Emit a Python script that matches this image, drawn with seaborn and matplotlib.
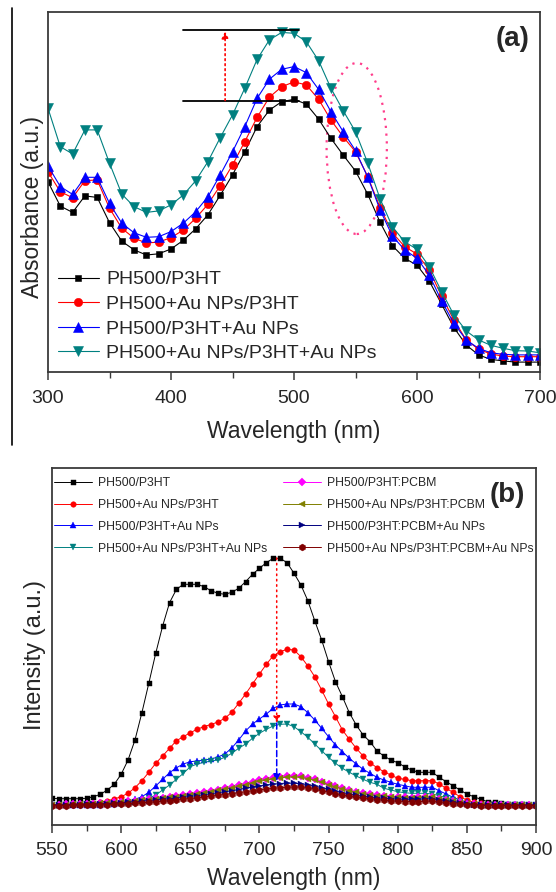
import numpy as np
import pandas as pd
import matplotlib
matplotlib.use('Agg')
import matplotlib.pyplot as plt
import seaborn as sns
from matplotlib.patches import Ellipse
from matplotlib.lines import Line2D
from matplotlib.ticker import MultipleLocator, NullFormatter, NullLocator

sns.set_style('ticks')
plt.rcParams['font.family'] = ['Liberation Sans', 'DejaVu Sans']

# ---------------- Panel (a): absorbance ----------------
wl_a = list(range(300, 701, 10))
abs_ph500_p3ht = [0.634, 0.553, 0.532, 0.587, 0.582, 0.498, 0.436, 0.407, 0.390, 0.394,
                  0.410, 0.439, 0.477, 0.524, 0.589, 0.657, 0.734, 0.818, 0.873, 0.901,
                  0.909, 0.893, 0.843, 0.779, 0.723, 0.670, 0.592, 0.499, 0.421, 0.379,
                  0.356, 0.303, 0.226, 0.148, 0.090, 0.057, 0.042, 0.037, 0.033, 0.033, 0.033]
abs_ph500au_p3ht = [0.667, 0.601, 0.581, 0.638, 0.640, 0.546, 0.479, 0.446, 0.430, 0.433,
                    0.448, 0.473, 0.512, 0.559, 0.621, 0.690, 0.768, 0.849, 0.916, 0.951,
                    0.967, 0.957, 0.909, 0.840, 0.784, 0.734, 0.651, 0.548, 0.464, 0.418,
                    0.393, 0.340, 0.253, 0.173, 0.107, 0.076, 0.060, 0.053, 0.051, 0.051, 0.051]
abs_ph500_p3htau = [0.687, 0.618, 0.592, 0.649, 0.649, 0.562, 0.496, 0.464, 0.449, 0.451,
                    0.468, 0.496, 0.534, 0.584, 0.657, 0.734, 0.818, 0.912, 0.976, 1.009,
                    1.018, 0.998, 0.942, 0.868, 0.801, 0.738, 0.649, 0.540, 0.453, 0.407,
                    0.379, 0.323, 0.237, 0.162, 0.107, 0.079, 0.064, 0.059, 0.057, 0.057, 0.057]
abs_ph500au_p3htau = [0.879, 0.751, 0.727, 0.807, 0.807, 0.696, 0.593, 0.551, 0.532, 0.537,
                      0.557, 0.590, 0.637, 0.701, 0.781, 0.857, 0.946, 1.042, 1.107, 1.132,
                      1.129, 1.101, 1.038, 0.946, 0.871, 0.801, 0.696, 0.577, 0.484, 0.434,
                      0.409, 0.351, 0.268, 0.190, 0.137, 0.107, 0.089, 0.079, 0.071, 0.070, 0.064]
labels_a = ['PH500/P3HT', 'PH500+Au NPs/P3HT', 'PH500/P3HT+Au NPs', 'PH500+Au NPs/P3HT+Au NPs']
colors_a = ['#000000', '#ff0000', '#0000ff', '#008080']
markers_a = ['s', 'o', '^', 'v']

# ---------------- Panel (b): PL intensity ----------------
wl_b = list(range(550, 901, 5))
pl_ph500_p3ht = [267, 263, 263, 263, 263, 267, 283, 307, 350, 407, 507, 650, 850, 1123, 1417,
                 1717, 1990, 2223, 2357, 2407, 2407, 2407, 2383, 2343, 2317, 2307, 2327, 2367,
                 2433, 2507, 2567, 2623, 2667, 2667, 2623, 2517, 2400, 2243, 2043, 1850, 1633,
                 1433, 1283, 1123, 1000, 900, 833, 740, 690, 650, 623, 583, 550, 527, 527, 527,
                 477, 433, 393, 350, 310, 283, 257, 233, 227, 217, 210, 210, 207, 203, 200]
pl_ph500au_p3ht = [200, 200, 200, 200, 205, 210, 217, 227, 243, 260, 283, 317, 373, 443, 527,
                   617, 690, 767, 843, 883, 923, 957, 985, 1005, 1030, 1067, 1127, 1217, 1310,
                   1410, 1510, 1607, 1693, 1733, 1757, 1750, 1683, 1590, 1483, 1350, 1210, 1083,
                   950, 857, 767, 690, 623, 573, 533, 500, 467, 457, 443, 443, 443, 443, 410, 367,
                   327, 283, 250, 227, 217, 210, 205, 200, 200, 200, 200, 200, 200]
pl_ph500_p3htau = [200, 200, 200, 200, 200, 200, 200, 200, 210, 215, 217, 233, 257, 283, 327,
                   390, 457, 523, 573, 610, 633, 640, 650, 660, 680, 710, 770, 850, 940, 1010,
                   1060, 1110, 1167, 1200, 1210, 1210, 1183, 1123, 1050, 967, 883, 800, 733, 667,
                   610, 557, 517, 477, 450, 427, 407, 393, 377, 377, 377, 377, 343, 310, 277, 250,
                   227, 210, 200, 200, 200, 200, 200, 200, 200, 200, 200]
pl_ph500au_p3htau = [200, 200, 200, 200, 200, 200, 200, 200, 200, 200, 200, 200, 210, 233, 267,
                     300, 350, 400, 457, 517, 583, 610, 627, 640, 650, 677, 717, 767, 810, 867,
                     917, 957, 990, 1007, 1010, 983, 933, 877, 810, 743, 677, 617, 567, 527, 490,
                     457, 427, 407, 367, 350, 333, 323, 317, 317, 317, 310, 293, 273, 250, 227,
                     210, 200, 200, 200, 200, 200, 200, 200, 200, 200, 200]
pl_ph500_pcbm = [205, 205, 207, 208, 210, 212, 215, 218, 222, 226, 230, 237, 245, 252, 260,
                 268, 275, 283, 290, 300, 310, 320, 330, 343, 355, 368, 380, 398, 415, 433,
                 450, 462, 475, 485, 490, 493, 490, 475, 457, 435, 410, 388, 367, 348, 330,
                 318, 307, 298, 290, 285, 280, 278, 275, 277, 280, 280, 265, 252, 240, 228,
                 215, 208, 200, 200, 200, 200, 200, 200, 200, 200, 200]
pl_ph500au_pcbm = [203, 203, 205, 206, 208, 210, 213, 216, 219, 223, 227, 233, 240, 247, 255,
                   262, 270, 277, 285, 294, 303, 313, 323, 335, 347, 360, 372, 388, 405, 422,
                   437, 450, 462, 472, 478, 480, 477, 465, 447, 427, 403, 382, 362, 343, 327,
                   315, 303, 295, 287, 282, 277, 274, 272, 273, 277, 277, 262, 250, 237, 225,
                   213, 206, 200, 200, 200, 200, 200, 200, 200, 200, 200]
pl_ph500_pcbmau = [200, 200, 202, 203, 205, 207, 209, 212, 215, 218, 222, 227, 232, 238, 244,
                   250, 257, 263, 270, 278, 286, 295, 303, 313, 323, 333, 343, 355, 368, 380,
                   390, 400, 408, 415, 418, 418, 413, 403, 390, 373, 357, 340, 325, 310, 297,
                   288, 280, 273, 267, 263, 260, 258, 257, 258, 262, 263, 252, 242, 232, 222,
                   212, 205, 200, 200, 200, 200, 200, 200, 200, 200, 200]
pl_ph500au_pcbmau = [193, 193, 195, 196, 197, 198, 200, 202, 204, 207, 210, 213, 217, 222, 227,
                     232, 238, 243, 250, 257, 265, 272, 280, 288, 297, 305, 314, 323, 333, 343,
                     352, 360, 367, 373, 378, 380, 377, 368, 357, 343, 328, 313, 300, 288, 278,
                     270, 263, 255, 248, 242, 238, 235, 233, 233, 238, 240, 232, 223, 215, 208,
                     202, 198, 195, 195, 195, 195, 195, 195, 195, 195, 195]
labels_b = ['PH500/P3HT', 'PH500+Au NPs/P3HT', 'PH500/P3HT+Au NPs', 'PH500+Au NPs/P3HT+Au NPs',
            'PH500/P3HT:PCBM', 'PH500+Au NPs/P3HT:PCBM', 'PH500/P3HT:PCBM+Au NPs',
            'PH500+Au NPs/P3HT:PCBM+Au NPs']
colors_b = ['#000000', '#ff0000', '#0000ff', '#008080', '#ff00ff', '#808000', '#000080', '#800000']
markers_b = ['s', 'o', '^', 'v', 'D', '<', '>', 'h']

series_a = [abs_ph500_p3ht, abs_ph500au_p3ht, abs_ph500_p3htau, abs_ph500au_p3htau]
series_b = [pl_ph500_p3ht, pl_ph500au_p3ht, pl_ph500_p3htau, pl_ph500au_p3htau,
            pl_ph500_pcbm, pl_ph500au_pcbm, pl_ph500_pcbmau, pl_ph500au_pcbmau]

W, H = 556, 892
fig = plt.figure(figsize=(W / 100, H / 100), dpi=100)
ax1 = fig.add_axes([48 / W, 1 - 372 / H, (540 - 48) / W, (372 - 12) / H])
ax2 = fig.add_axes([52 / W, 1 - 825 / H, (536 - 52) / W, (825 - 468) / H])

spine_c = '#3a3a3a'

def style_axis(ax, pad):
    for s in ax.spines.values():
        s.set_visible(True)
        s.set_color(spine_c)
        s.set_linewidth(1.3)
    ax.tick_params(axis='x', which='major', direction='out', length=6, width=1.1,
                   color=spine_c, labelsize=14, pad=pad)
    ax.tick_params(axis='x', which='minor', direction='out', length=4, width=1.0, color=spine_c)
    ax.yaxis.set_major_locator(NullLocator())
    ax.yaxis.set_minor_locator(NullLocator())
    ax.set_facecolor('white')

# Panel (a)
msizes_a = [5, 6, 6.5, 6.5]
for vals, lab, c, m, ms in zip(series_a, labels_a, colors_a, markers_a, msizes_a):
    sns.lineplot(x=wl_a, y=vals, ax=ax1, color=c, marker=m, markersize=ms,
                 markeredgecolor=c, markeredgewidth=0.4, linewidth=0.8, label=lab)
ax1.set_xlim(300, 700)
ax1.set_ylim(0, 1.2)
ax1.xaxis.set_major_locator(MultipleLocator(100))
ax1.xaxis.set_minor_locator(MultipleLocator(50))
style_axis(ax1, 7)
ax1.set_xlabel('Wavelength (nm)', fontsize=16.5, labelpad=9)
ax1.set_ylabel('Absorbance (a.u.)', fontsize=16.5)
ax1.yaxis.set_label_coords(-0.008, 0.457)
leg1 = ax1.legend(loc='lower left', bbox_to_anchor=(0.0, 0.0), frameon=False, fontsize=14,
                  handlelength=2.1, handletextpad=0.4, labelspacing=0.36, borderpad=0.2,
                  borderaxespad=0.3)
ax1.text(0.978, 0.96, '(a)', transform=ax1.transAxes, ha='right', va='top',
         fontsize=20, fontweight='bold')
# annotations (a)
ax1.plot([410, 504], [1.14, 1.14], color='black', lw=1.3)
ax1.plot([410, 504], [0.903, 0.903], color='black', lw=1.3)
ax1.annotate('', xy=(444, 1.135), xytext=(444, 0.905),
             arrowprops=dict(arrowstyle='-|>', color='red', lw=1.2, linestyle=(0, (1, 2)),
                             mutation_scale=10, shrinkA=0, shrinkB=0))
ax1.add_patch(Ellipse((551, 0.745), 49, 0.57, fill=False, edgecolor='#ff3d8b',
                      linestyle=(0, (1, 2.5)), lw=1.6))

# Panel (b)
msizes_b = [3.6, 4, 5, 5, 4, 5, 5, 5]
for vals, lab, c, m, ms in zip(series_b, labels_b, colors_b, markers_b, msizes_b):
    sns.lineplot(x=wl_b, y=vals, ax=ax2, color=c, marker=m, markersize=ms,
                 markeredgecolor=c, markeredgewidth=0.3, linewidth=0.7, label=lab)
ax2.set_xlim(550, 900)
ax2.set_ylim(0, 3570)
ax2.xaxis.set_major_locator(MultipleLocator(50))
ax2.xaxis.set_minor_locator(MultipleLocator(25))
style_axis(ax2, 6)
ax2.set_xlabel('Wavelength (nm)', fontsize=16.5, labelpad=6)
ax2.set_ylabel('Intensity (a.u.)', fontsize=17)
ax2.yaxis.set_label_coords(-0.013, 0.476)
leg2 = ax2.legend(loc='upper left', bbox_to_anchor=(-0.015, 1.0), frameon=False, fontsize=8.8,
                  ncol=2, handlelength=3.1, handletextpad=0.5, labelspacing=0.8,
                  columnspacing=1.3, borderpad=0.75, borderaxespad=0.0)
ax2.text(0.978, 0.96, '(b)', transform=ax2.transAxes, ha='right', va='top',
         fontsize=20, fontweight='bold')
ax2.annotate('', xy=(712.5, 1020), xytext=(712.5, 2670),
             arrowprops=dict(arrowstyle='-|>', color='red', lw=1.1, linestyle=(0, (1, 2.5)),
                             mutation_scale=10, shrinkA=0, shrinkB=0))
ax2.annotate('', xy=(712.5, 440), xytext=(712.5, 1020),
             arrowprops=dict(arrowstyle='-|>', color='blue', lw=1.1, linestyle=(0, (4, 2)),
                             mutation_scale=10, shrinkA=0, shrinkB=0))

# crop-edge vertical line at far left of panel (a)
fig.add_artist(Line2D([12 / W, 12 / W], [1 - 8 / H, 1 - 445 / H], color='black', lw=1.2,
                      transform=fig.transFigure))

fig.savefig('out.png', dpi=100, facecolor='white')
